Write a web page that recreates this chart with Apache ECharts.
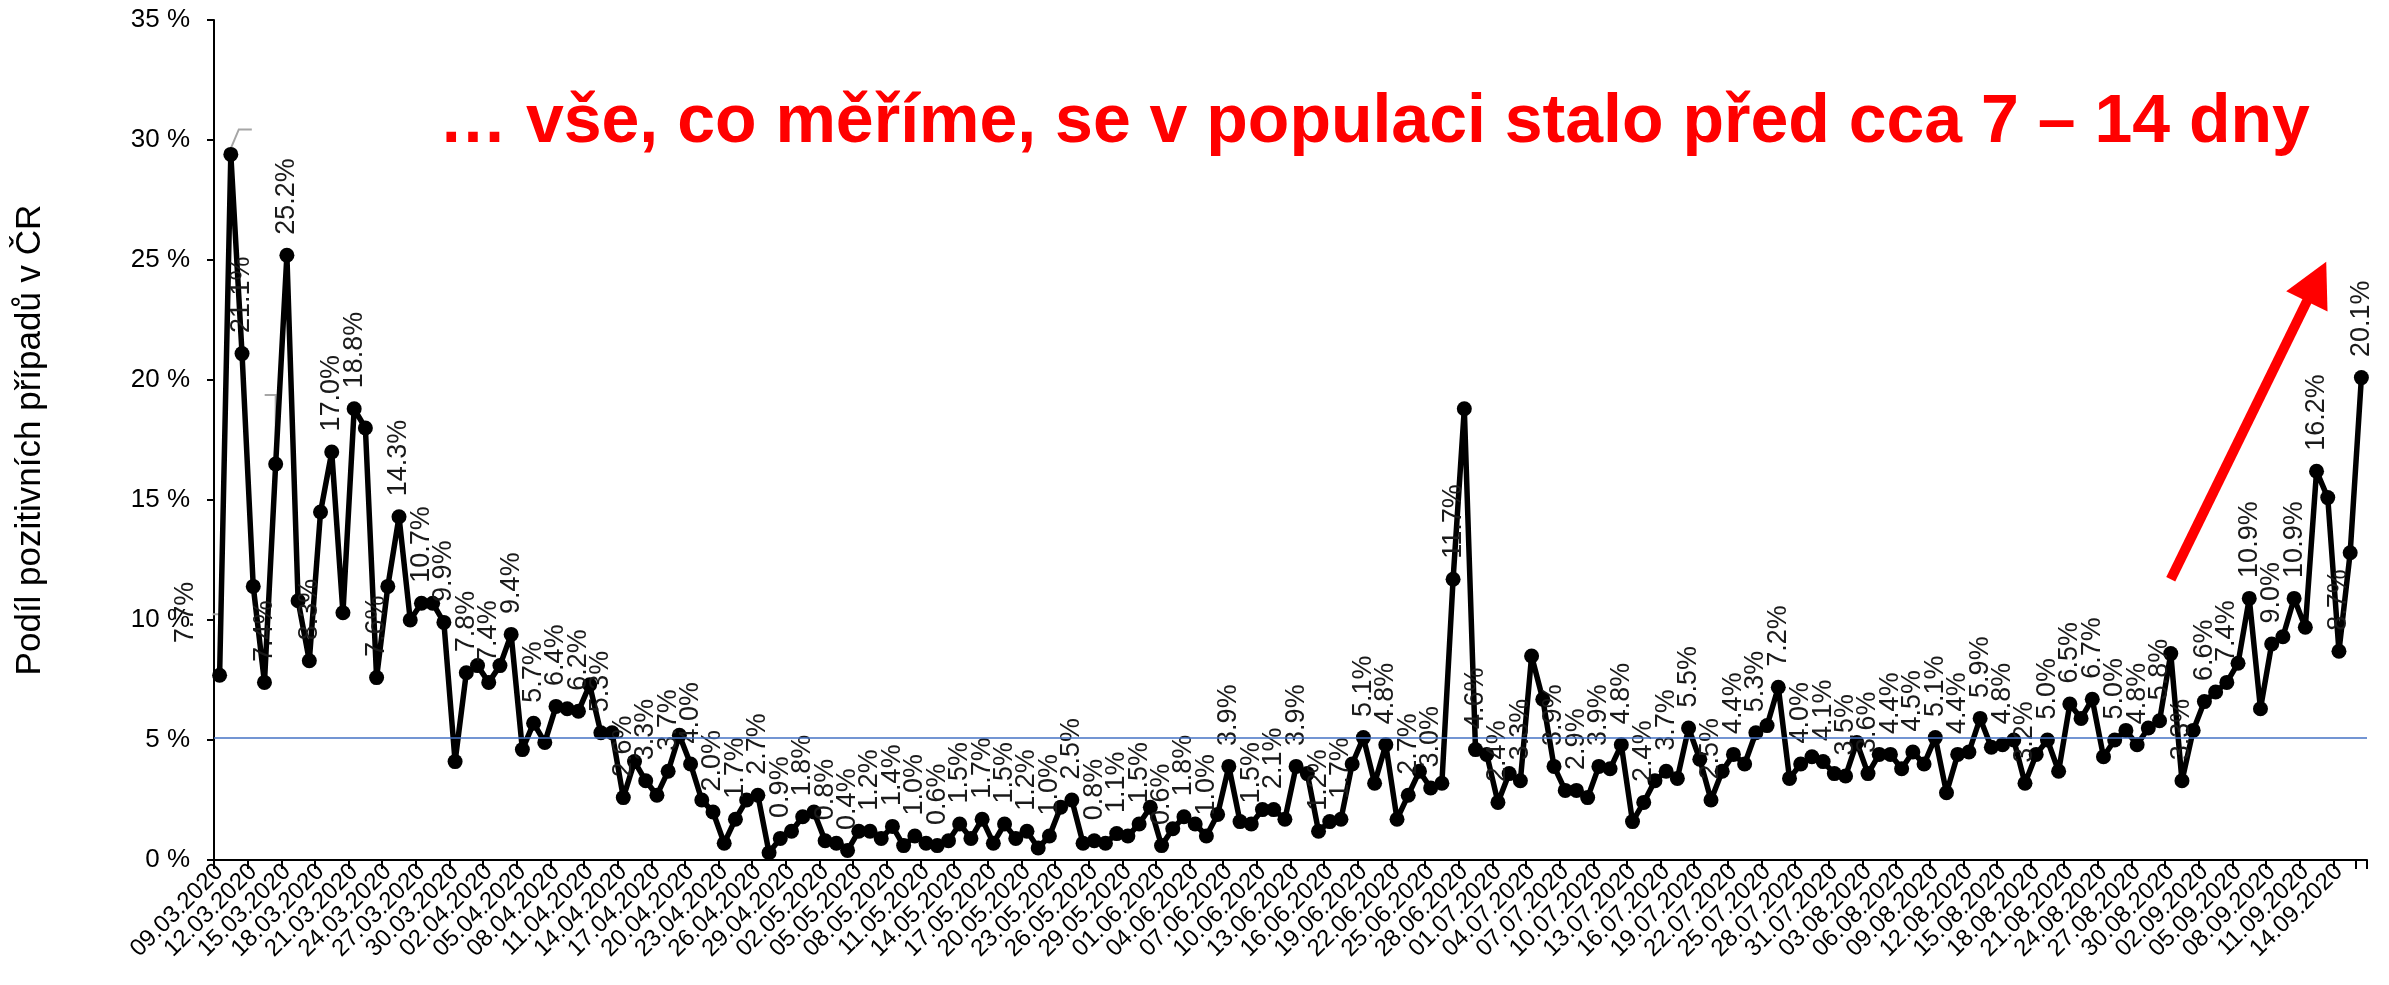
<!DOCTYPE html>
<html><head><meta charset="utf-8">
<script src="https://cdn.jsdelivr.net/npm/echarts@6/dist/echarts.min.js"></script>
<style>html,body{margin:0;padding:0;background:#fff}#c{width:2389px;height:985px}</style>
</head><body><div id="c"></div>
<script>
const categories = [
'09.03.2020','10.03.2020','11.03.2020','12.03.2020','13.03.2020','14.03.2020','15.03.2020','16.03.2020','17.03.2020','18.03.2020','19.03.2020','20.03.2020','21.03.2020','22.03.2020','23.03.2020','24.03.2020','25.03.2020','26.03.2020','27.03.2020','28.03.2020','29.03.2020','30.03.2020','31.03.2020',
'01.04.2020','02.04.2020','03.04.2020','04.04.2020','05.04.2020','06.04.2020','07.04.2020','08.04.2020','09.04.2020','10.04.2020','11.04.2020','12.04.2020','13.04.2020','14.04.2020','15.04.2020','16.04.2020','17.04.2020','18.04.2020','19.04.2020','20.04.2020','21.04.2020','22.04.2020','23.04.2020','24.04.2020','25.04.2020','26.04.2020','27.04.2020','28.04.2020','29.04.2020','30.04.2020',
'01.05.2020','02.05.2020','03.05.2020','04.05.2020','05.05.2020','06.05.2020','07.05.2020','08.05.2020','09.05.2020','10.05.2020','11.05.2020','12.05.2020','13.05.2020','14.05.2020','15.05.2020','16.05.2020','17.05.2020','18.05.2020','19.05.2020','20.05.2020','21.05.2020','22.05.2020','23.05.2020','24.05.2020','25.05.2020','26.05.2020','27.05.2020','28.05.2020','29.05.2020','30.05.2020','31.05.2020',
'01.06.2020','02.06.2020','03.06.2020','04.06.2020','05.06.2020','06.06.2020','07.06.2020','08.06.2020','09.06.2020','10.06.2020','11.06.2020','12.06.2020','13.06.2020','14.06.2020','15.06.2020','16.06.2020','17.06.2020','18.06.2020','19.06.2020','20.06.2020','21.06.2020','22.06.2020','23.06.2020','24.06.2020','25.06.2020','26.06.2020','27.06.2020','28.06.2020','29.06.2020','30.06.2020',
'01.07.2020','02.07.2020','03.07.2020','04.07.2020','05.07.2020','06.07.2020','07.07.2020','08.07.2020','09.07.2020','10.07.2020','11.07.2020','12.07.2020','13.07.2020','14.07.2020','15.07.2020','16.07.2020','17.07.2020','18.07.2020','19.07.2020','20.07.2020','21.07.2020','22.07.2020','23.07.2020','24.07.2020','25.07.2020','26.07.2020','27.07.2020','28.07.2020','29.07.2020','30.07.2020','31.07.2020',
'01.08.2020','02.08.2020','03.08.2020','04.08.2020','05.08.2020','06.08.2020','07.08.2020','08.08.2020','09.08.2020','10.08.2020','11.08.2020','12.08.2020','13.08.2020','14.08.2020','15.08.2020','16.08.2020','17.08.2020','18.08.2020','19.08.2020','20.08.2020','21.08.2020','22.08.2020','23.08.2020','24.08.2020','25.08.2020','26.08.2020','27.08.2020','28.08.2020','29.08.2020','30.08.2020','31.08.2020',
'01.09.2020','02.09.2020','03.09.2020','04.09.2020','05.09.2020','06.09.2020','07.09.2020','08.09.2020','09.09.2020','10.09.2020','11.09.2020','12.09.2020','13.09.2020','14.09.2020','15.09.2020','16.09.2020'
];

const positivityMarch = [7.7,29.4,21.1,11.4,7.4,16.5,25.2,10.8,8.3,14.5,17.0,10.3,18.8,18.0,7.6,11.4,14.3,10.0,10.7,10.7,9.9,4.1,7.8];
const positivityApril = [8.1,7.4,8.1,9.4,4.6,5.7,4.9,6.4,6.3,6.2,7.3,5.3,5.3,2.6,4.1,3.3,2.7,3.7,5.2,4.0,2.5,2.0,0.7,1.7,2.5,2.7,0.3,0.9,1.2,1.8];
const positivityMay = [2.0,0.8,0.7,0.4,1.2,1.2,0.9,1.4,0.6,1.0,0.7,0.6,0.8,1.5,0.9,1.7,0.7,1.5,0.9,1.2,0.5,1.0,2.2,2.5,0.7,0.8,0.7,1.1,1.0,1.5,2.2];
const positivityJune = [0.6,1.3,1.8,1.5,1.0,1.9,3.9,1.6,1.5,2.1,2.1,1.7,3.9,3.6,1.2,1.6,1.7,4.0,5.1,3.2,4.8,1.7,2.7,3.7,3.0,3.2,11.7,18.8,4.6,4.4];
const positivityJuly = [2.4,3.6,3.3,8.5,6.7,3.9,2.9,2.9,2.6,3.9,3.8,4.8,1.6,2.4,3.3,3.7,3.4,5.5,4.2,2.5,3.7,4.4,4.0,5.3,5.6,7.2,3.4,4.0,4.3,4.1,3.6];
const positivityAugust = [3.5,4.9,3.6,4.4,4.4,3.8,4.5,4.0,5.1,2.8,4.4,4.5,5.9,4.7,4.8,5.0,3.2,4.4,5.0,3.7,6.5,5.9,6.7,4.3,5.0,5.4,4.8,5.5,5.8,8.6,3.3];
const positivitySeptember = [5.4,6.6,7.0,7.4,8.2,10.9,6.3,9.0,9.3,10.9,9.7,16.2,15.1,8.7,12.8,20.1];

const referenceLevel = [5.1];
const yTickValues = [0,5,10,15,20,25,30,35];
const titleText = '\u2026 vše, co měříme, se v populaci stalo před cca 7 \u2013 14 dny';
const axisTitle = 'Podíl pozitivních případů v ČR';
const arrowFrom = [174, 11.7];
const arrowTo = [187, 24.1];
const leaderPoints = [0, 1, 5];

const positivity = [].concat(positivityMarch, positivityApril, positivityMay, positivityJune, positivityJuly, positivityAugust, positivitySeptember);

const FONT = "'Liberation Sans', Arial, sans-serif";
const showLabelAt = i => (i <= 116 ? i % 2 === 0 : (i >= 119 && i % 2 === 1));

const seriesData = positivity.map((v, i) => (showLabelAt(i) ? { value: v, label: { show: true } } : v));

const chart = echarts.init(document.getElementById('c'), null, { renderer: 'canvas' });
chart.setOption({
  animation: false,
  backgroundColor: '#ffffff',
  title: {
    text: titleText, left: 434, top: 84,
    textStyle: { color: '#ff0000', fontSize: 68, fontWeight: 'bold', fontFamily: FONT }
  },
  grid: { left: 214, right: 22, top: 20, bottom: 125, containLabel: false },
  xAxis: {
    type: 'category', data: categories, boundaryGap: true,
    axisLine: { lineStyle: { color: '#000', width: 2 } },
    axisTick: { show: true, interval: 2, length: 9, lineStyle: { color: '#000', width: 2 } },
    axisLabel: {
      interval: 0, rotate: 45, fontSize: 24, color: '#000', fontFamily: FONT, margin: 8,
      formatter: (v, i) => (i % 3 === 0 ? v : '')
    }
  },
  yAxis: {
    type: 'value', min: yTickValues[0], max: yTickValues[yTickValues.length - 1], interval: 5,
    splitLine: { show: false },
    axisLine: { show: true, lineStyle: { color: '#000', width: 2 } },
    axisTick: { show: true, length: 7, lineStyle: { color: '#000', width: 2 } },
    axisLabel: { formatter: '{value} %', fontSize: 26, color: '#000', margin: 24, fontFamily: FONT },
    name: axisTitle, nameLocation: 'middle', nameRotate: 90, nameGap: 166,
    nameTextStyle: { fontSize: 35, color: '#000', fontFamily: FONT }
  },
  series: [{
    type: 'line', data: seriesData, symbol: 'circle', symbolSize: 15, showAllSymbol: true, z: 3,
    itemStyle: { color: '#000' }, lineStyle: { color: '#000', width: 5.5 },
    labelLayout: p => {
      if (p.dataIndex !== 0) return { hideOverlap: false };
      const cx = p.rect.x + p.rect.width / 2, cy = p.rect.y + p.rect.height / 2;
      return { x: cx - 34, y: cy - 32, hideOverlap: false };
    },
    label: {
      show: false, position: 'top', rotate: 90, align: 'left', verticalAlign: 'middle', distance: 13,
      fontSize: 27, color: '#1a1a1a', fontFamily: FONT,
      formatter: p => Number(p.value).toFixed(1) + '%'
    },
    markLine: {
      silent: true, animation: false, label: { show: false }, symbol: ['none', 'none'],
      data: [
        { yAxis: referenceLevel[0], lineStyle: { color: '#4472C4', width: 1.6, type: 'solid' } },
        [
          { coord: arrowFrom, symbol: 'none', lineStyle: { color: '#ff0000', width: 10, type: 'solid' } },
          { coord: arrowTo, symbol: 'triangle', symbolSize: [46, 44] }
        ]
      ]
    }
  }]
});

// grey leader lines of moved data labels (relative to their data points)
const px = leaderPoints.map(i => chart.convertToPixel({ gridIndex: 0 }, [i, positivity[i]]));
const leaderShapes = [
  [[px[0][0] - 7, px[0][1] - 61], [px[0][0], px[0][1] - 61], [px[0][0], px[0][1] - 7]],
  [[px[1][0], px[1][1] - 6], [px[1][0] + 8, px[1][1] - 25], [px[1][0] + 21, px[1][1] - 25]],
  [[px[2][0], px[2][1] - 7], [px[2][0], px[2][1] - 69], [px[2][0] - 11, px[2][1] - 69]]
];
chart.setOption({
  graphic: leaderShapes.map(pts => ({
    type: 'polyline', z: 1, silent: true,
    shape: { points: pts },
    style: { stroke: '#a6a6a6', lineWidth: 2, fill: null }
  }))
});
</script></body></html>
